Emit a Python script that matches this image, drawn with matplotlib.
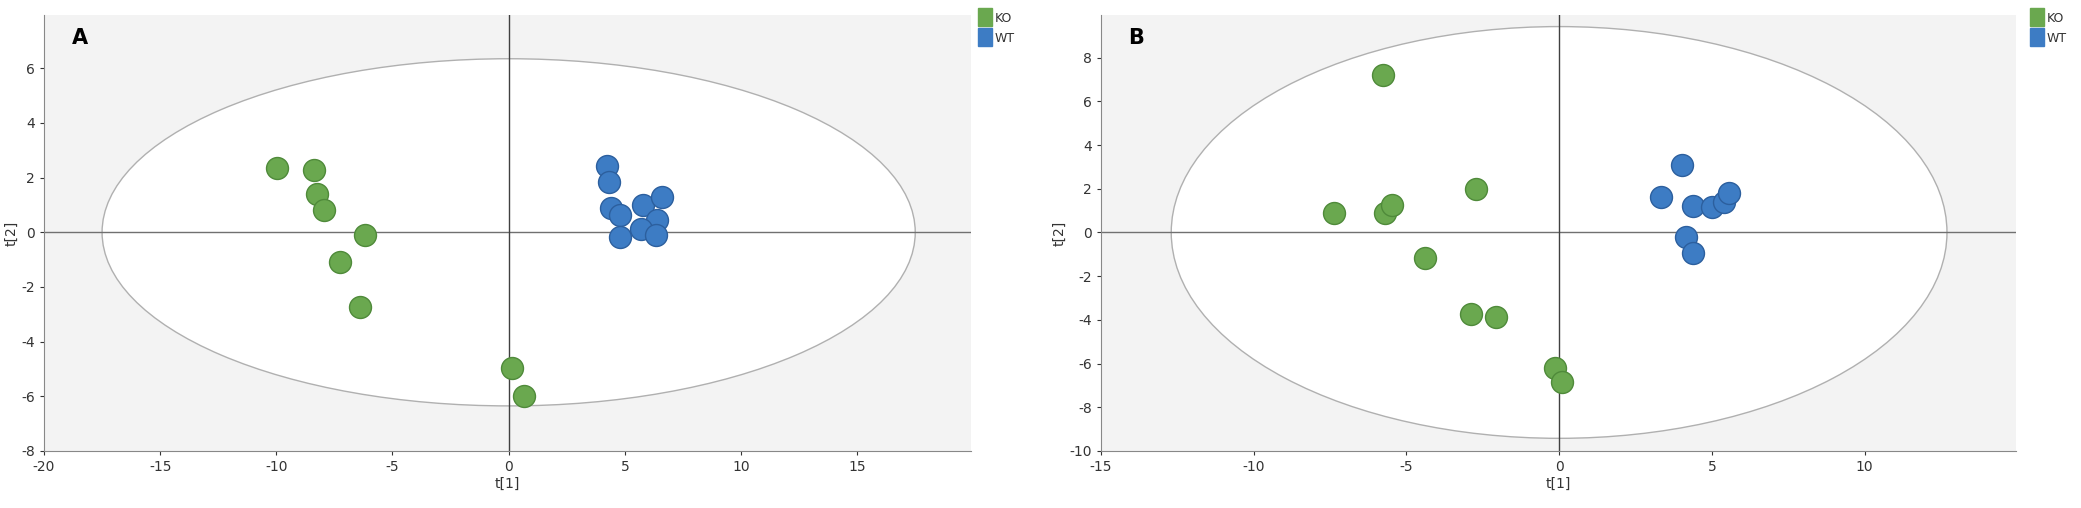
import matplotlib.pyplot as plt
from matplotlib.patches import Ellipse

plt.rcParams["axes.unicode_minus"] = False

# Panel A scores
a_ko_x = [-9.97, -8.4, -8.26, -7.94, -6.17, -7.25, -6.4, 0.14, 0.67]
a_ko_y = [2.37, 2.28, 1.39, 0.82, -0.1, -1.07, -2.72, -4.98, -5.98]
a_wt_x = [4.23, 4.32, 4.4, 4.8, 5.8, 6.6, 6.4, 5.68, 6.35, 4.8]
a_wt_y = [2.43, 1.85, 0.88, 0.63, 1.0, 1.3, 0.45, 0.11, -0.1, -0.18]

# Panel B scores
b_ko_x = [-5.76, -7.37, -5.7, -5.48, -2.72, -4.39, -2.87, -2.07, -0.15, 0.11]
b_ko_y = [7.2, 0.9, 0.87, 1.25, 1.97, -1.19, -3.71, -3.86, -6.2, -6.84]
b_wt_x = [4.04, 3.35, 4.37, 5.0, 5.39, 5.57, 4.15, 4.37]
b_wt_y = [3.08, 1.63, 1.22, 1.18, 1.4, 1.79, -0.2, -0.92]

GREEN = "#6aa84f"
BLUE = "#3d7cc4"

W, H = 2081, 508
fig = plt.figure(figsize=(W / 100, H / 100), dpi=100)


def panel(rect, label, kox, koy, wtx, wty, xlim, ylim, ell, xticks, yticks, leg_x):
    l, r, t, b = rect
    ax = fig.add_axes([l / W, 1 - b / H, (r - l) / W, (b - t) / H])
    ax.set_facecolor("#f3f3f3")
    ax.add_patch(Ellipse((0, 0), 2 * ell[0], 2 * ell[1], facecolor="white",
                         edgecolor="#b0b0b0", lw=1.0, zorder=1))
    ax.axhline(0, color="#707070", lw=1.0, zorder=2)
    ax.axvline(0, color="#404040", lw=1.0, zorder=2)
    ax.scatter(kox, koy, s=250, color=GREEN, edgecolor="#4f8a3a", lw=1, zorder=3)
    ax.scatter(wtx, wty, s=250, color=BLUE, edgecolor="#2c5f9e", lw=1, zorder=3)
    ax.set_xlim(*xlim)
    ax.set_ylim(*ylim)
    ax.set_xticks(xticks)
    ax.set_yticks(yticks)
    ax.tick_params(labelsize=10, colors="#333333", length=3)
    for s in ("top", "right"):
        ax.spines[s].set_visible(False)
    for s in ("left", "bottom"):
        ax.spines[s].set_color("#888888")
    ax.set_xlabel("t[1]", fontsize=10, color="#333333", labelpad=2)
    ax.set_ylabel("t[2]", fontsize=10, color="#333333", labelpad=2)
    ax.text(0.03, 0.97, label, transform=ax.transAxes, fontsize=15,
            fontweight="bold", va="top", ha="left")
    # legend squares
    for i, (name, c) in enumerate([("KO", GREEN), ("WT", BLUE)]):
        y = 1 - (18 + i * 20) / H
        fig.patches.append(plt.Rectangle((leg_x / W, y - 8 / H), 14 / W, 18 / H,
                                         color=c, transform=fig.transFigure))
        fig.text((leg_x + 17) / W, y, name, fontsize=9, va="center", color="#333333")


panel((44, 971, 15, 451), "A", a_ko_x, a_ko_y, a_wt_x, a_wt_y,
      (-20, 19.9), (-8, 7.95), (17.5, 6.35),
      [-20, -15, -10, -5, 0, 5, 10, 15], [-8, -6, -4, -2, 0, 2, 4, 6], 978)
panel((1101, 2016, 15, 451), "B", b_ko_x, b_ko_y, b_wt_x, b_wt_y,
      (-15, 14.96), (-10, 9.95), (12.7, 9.42),
      [-15, -10, -5, 0, 5, 10], [-10, -8, -6, -4, -2, 0, 2, 4, 6, 8], 2030)

fig.savefig("out.png", dpi=100)
